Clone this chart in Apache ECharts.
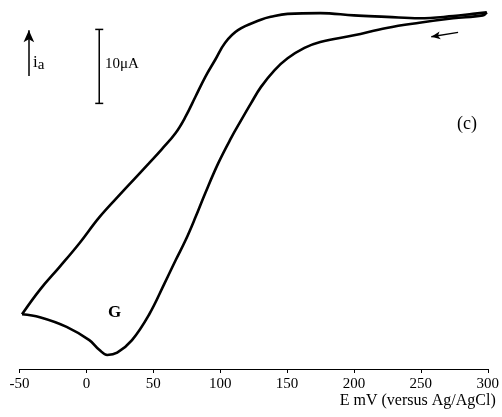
<!DOCTYPE html>
<html>
<head>
<meta charset="utf-8">
<style>
  html, body { margin: 0; padding: 0; background: #fff; }
  #chart { width: 502px; height: 417px; }
</style>
<script src="https://cdn.jsdelivr.net/npm/echarts@6/dist/echarts.min.js"></script>
</head>
<body>
<div id="chart"></div>
<script>
// potential axis ticks (mV vs Ag/AgCl)
const xTicks = [-50, 0, 50, 100, 150, 200, 250, 300]

// voltammogram: [E (mV), i (uA, arbitrary zero)]
const forwardScan = [
  [-48.1, 7.4], [-34.8, 7.0], [-14.8, 5.7], [2.2, 3.9], [9.6, 2.6], [15.6, 1.9],
  [23.0, 2.2], [34.1, 3.9], [46.7, 7.3], [58.5, 11.6], [66.7, 14.7], [74.1, 17.4],
  [81.5, 20.5], [88.9, 23.8], [98.5, 27.8], [108.1, 31.2], [115.6, 33.6],
  [123.0, 35.9], [130.4, 38.1], [140.7, 40.4], [150.4, 42.0], [163.0, 43.4],
  [174.8, 44.2], [200.0, 45.1], [224.4, 46.1], [248.9, 46.8], [274.1, 47.4],
  [296.3, 47.8], [299.3, 48.2]
]
const reverseScan = [
  [299.3, 48.2], [288.9, 48.0], [274.1, 47.7], [248.9, 47.4], [224.4, 47.6],
  [200.0, 47.8], [174.8, 48.1], [150.4, 48.0], [137.8, 47.6], [130.4, 47.2],
  [113.3, 45.8], [103.7, 44.1], [96.3, 41.8], [88.9, 39.5], [81.5, 36.8],
  [74.1, 34.1], [66.7, 31.9], [56.3, 29.7], [46.7, 27.8], [37.0, 25.9],
  [26.7, 23.9], [9.6, 20.5], [-5.2, 17.0], [-20.0, 13.8],
  [-34.8, 10.7], [-48.1, 7.4]
]

// 10 uA scale bar and the two arrows
const scaleBar = [[9.6, 35.9], [9.6, 45.9]]
const currentArrow = [[-43.0, 39.6], [-43.0, 45.8]]
const scanArrow = [[277.8, 45.5], [257.8, 44.9]]

const serif = 'Liberation Serif'

const chart = echarts.init(document.getElementById('chart'))

const option = {
  animation: false,
  grid: { left: 19.5, right: 10, top: 5, bottom: 48 },
  xAxis: {
    type: 'value',
    min: -50,
    max: 300,
    interval: 50,
    splitLine: { show: false },
    axisLine: { onZero: false, lineStyle: { color: '#000', width: 1.2 } },
    axisTick: { length: 4, lineStyle: { color: '#000' } },
    axisLabel: {
      margin: 8,
      color: '#000',
      fontFamily: serif,
      fontSize: 15,
      customValues: xTicks
    },
    name: 'E mV (versus Ag/AgCl)',
    nameLocation: 'end',
    nameGap: 8,
    nameTextStyle: {
      color: '#000',
      fontFamily: serif,
      fontSize: 16,
      align: 'right',
      verticalAlign: 'top',
      padding: [24, 0, 0, 0]
    }
  },
  yAxis: {
    type: 'value',
    min: 0,
    max: 49.2,
    show: false
  },
  series: [
    {
      type: 'line',
      data: forwardScan,
      symbol: 'none',
      smooth: 0.4,
      lineStyle: { color: '#000', width: 2.6 }
    },
    {
      type: 'line',
      data: reverseScan,
      symbol: 'none',
      smooth: 0.4,
      lineStyle: { color: '#000', width: 2.6 }
    },
    {
      type: 'line',
      data: scaleBar,
      symbol: 'rect',
      symbolSize: [8, 1.5],
      itemStyle: { color: '#000' },
      lineStyle: { color: '#000', width: 1.5 }
    },
    {
      type: 'line',
      data: [],
      markLine: {
        silent: true,
        symbol: ['none', 'arrow'],
        symbolSize: [8, 12],
        label: { show: false },
        lineStyle: { color: '#000', width: 1.5, type: 'solid' },
        data: [
          [{ coord: currentArrow[0] }, { coord: currentArrow[1] }],
          [{ coord: scanArrow[0], symbolSize: [6, 9] }, { coord: scanArrow[1], symbolSize: [6, 9] }]
        ]
      }
    }
  ],
  graphic: [
    {
      type: 'text',
      left: 33,
      top: 54,
      style: {
        text: '{i|i}{a|a}',
        rich: {
          i: { fontFamily: serif, fontSize: 17, fill: '#000' },
          a: { fontFamily: serif, fontSize: 15, fill: '#000', verticalAlign: 'bottom', padding: [6, 0, 0, 0] }
        }
      }
    },
    {
      type: 'text',
      left: 105,
      top: 57,
      style: { text: '10μA', fontFamily: serif, fontSize: 15, fill: '#000' }
    },
    {
      type: 'text',
      left: 108,
      top: 304,
      style: { text: 'G', fontFamily: serif, fontSize: 17, fontWeight: 'bold', fill: '#000' }
    },
    {
      type: 'text',
      left: 457,
      top: 115,
      style: { text: '(c)', fontFamily: serif, fontSize: 18, fill: '#000' }
    }
  ]
}

chart.setOption(option)
window.addEventListener('resize', () => chart.resize())
</script>
</body>
</html>
